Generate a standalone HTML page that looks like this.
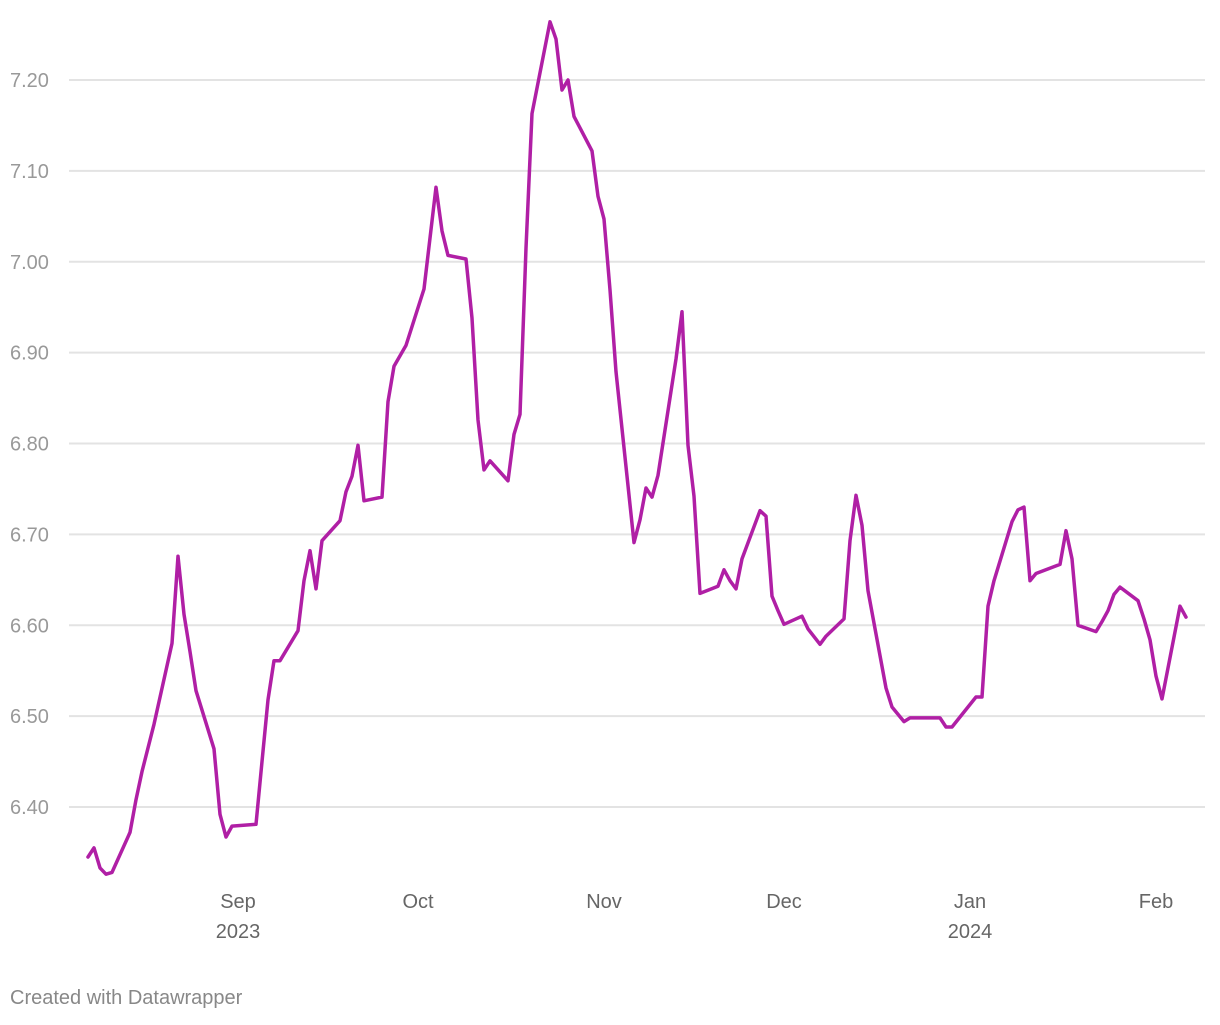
<!DOCTYPE html>
<html><head><meta charset="utf-8"><style>
html,body{margin:0;padding:0;background:#fff;}
body{width:1220px;height:1020px;overflow:hidden;font-family:"Liberation Sans",sans-serif;}
</style></head><body>
<svg id="chart" width="1220" height="1020" xmlns="http://www.w3.org/2000/svg">
<g id="grid"></g>
<g id="yticks"></g>
<g id="xticks"></g>
<g id="series"></g>
<text x="10" y="1004" font-size="20" fill="#888">Created with Datawrapper</text>
</svg>
<script>
const days=[0,1,2,3,4,7,8,9,11,14,15,16,17,18,21,22,23,24,28,29,30,31,32,35,36,37,38,39,42,43,44,45,46,49,50,51,53,56,58,59,60,63,64,65,66,67,70,71,72,73,74,77,78,79,80,81,84,85,86,87,88,91,92,93,94,95,98,99,100,101,102,105,106,107,108,109,112,113,114,115,116,119,120,122,123,126,127,128,129,130,133,134,136,137,142,143,144,148,149,150,151,154,155,156,157,158,162,163,164,165,168,169,170,171,172,175,176,177,178,179,182,183];
const values=[6.345,6.355,6.333,6.326,6.328,6.372,6.408,6.439,6.491,6.580,6.676,6.612,6.571,6.528,6.464,6.392,6.367,6.379,6.381,6.450,6.518,6.561,6.561,6.594,6.649,6.682,6.640,6.693,6.715,6.747,6.764,6.798,6.737,6.741,6.846,6.885,6.908,6.970,7.082,7.034,7.007,7.003,6.938,6.826,6.771,6.781,6.759,6.810,6.832,7.015,7.163,7.264,7.245,7.189,7.200,7.160,7.122,7.072,7.047,6.969,6.879,6.691,6.716,6.751,6.741,6.765,6.893,6.945,6.798,6.742,6.635,6.643,6.661,6.649,6.640,6.673,6.726,6.720,6.632,6.616,6.601,6.610,6.596,6.579,6.588,6.607,6.693,6.743,6.710,6.638,6.531,6.510,6.494,6.498,6.498,6.488,6.488,6.521,6.521,6.621,6.649,6.714,6.727,6.730,6.649,6.657,6.667,6.704,6.673,6.600,6.593,6.604,6.616,6.634,6.642,6.627,6.607,6.584,6.544,6.519,6.621,6.609];
const yTicks=[6.40,6.50,6.60,6.70,6.80,6.90,7.00,7.10,7.20];
const xTickDays=[25,55,86,116,147,178];
const xTickLabels=["Sep","Oct","Nov","Dec","Jan","Feb"];
const xTickYears=["2023","","","","2024",""];
const NS="http://www.w3.org/2000/svg";
function xs(d){return 238+(d-25)*6;}
function ys(v){return 80+(7.2-v)*908.75;}
function mk(t,a,p){const e=document.createElementNS(NS,t);for(const k in a)e.setAttribute(k,a[k]);p.appendChild(e);return e;}
const grid=document.getElementById('grid'),yt=document.getElementById('yticks'),xt=document.getElementById('xticks'),se=document.getElementById('series');
yTicks.forEach(v=>{
  const l=mk('line',{x1:69,x2:1205,y1:ys(v),y2:ys(v),stroke:'#e3e3e3','stroke-width':2},grid);
  
  
  const t=mk('text',{x:10,y:ys(v)+7,'font-size':20,fill:'#999'},yt);
  t.textContent=v.toFixed(2);
  
  
});
xTickDays.forEach((d,i)=>{
  const t=mk('text',{x:xs(d),y:908,'font-size':20,fill:'#666','text-anchor':'middle'},xt);
  t.textContent=xTickLabels[i];
  
  
  if(xTickYears[i]){
    const y=mk('text',{x:xs(d),y:938,'font-size':20,fill:'#666','text-anchor':'middle'},xt);
    y.textContent=xTickYears[i];
    
    
  }
});
const pts=days.map((d,i)=>xs(d).toFixed(1)+','+ys(values[i]).toFixed(1)).join(' ');
const pl=mk('polyline',{points:pts,fill:'none',stroke:'#b01fa5','stroke-width':3.5,'stroke-linejoin':'round','stroke-linecap':'round'},se);


</script>
</body></html>
